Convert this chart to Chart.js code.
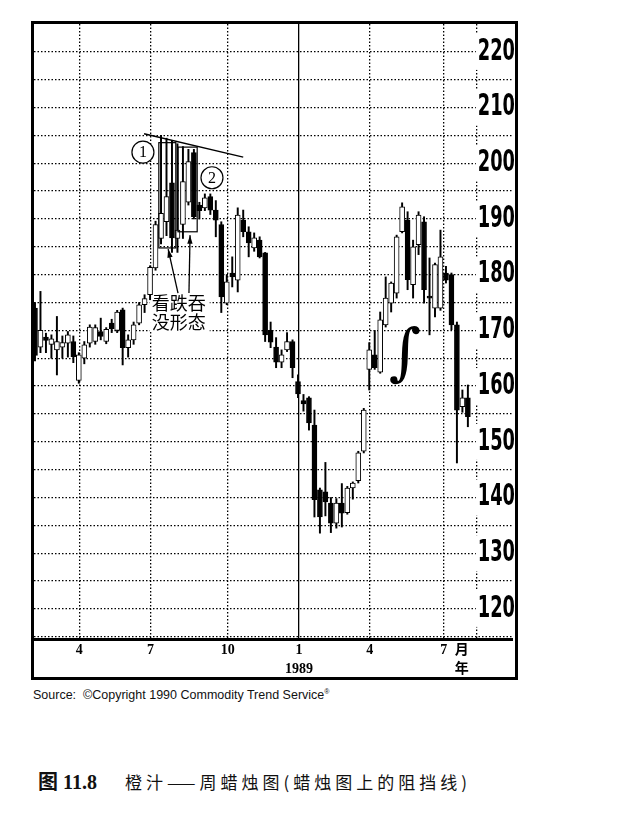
<!DOCTYPE html>
<html>
<head>
<meta charset="utf-8">
<script src="https://cdn.jsdelivr.net/npm/chart.js@4.4.0/dist/chart.umd.min.js"></script>
<style>
  body { margin: 0; background: #fff; width: 618px; height: 820px; position: relative; overflow: hidden; }
  #frame { position: absolute; left: 31px; top: 21px; width: 487px; height: 659px;
           border: 3px solid #000; box-sizing: border-box; }
  #frame canvas { display: block; }
  #source { position: absolute; left: 33px; top: 688px; font: 12.5px "Liberation Sans", Arial, sans-serif; color: #111; }
  #source sup { font-size: 7px; }
  #caption { position: absolute; left: 38px; top: 766px; font: 17px "Noto Sans CJK SC", sans-serif; color: #111; }
  #caption b { font: bold 20px "Liberation Serif", "Noto Sans CJK SC", serif; margin-right: 28px; }
  #caption span { letter-spacing: 4px; }
</style>
</head>
<body>
<div id="frame"><canvas id="weeklyChart" width="481" height="653"></canvas></div>
<div id="source">Source:&nbsp; ©Copyright 1990 Commodity Trend Service<sup>®</sup></div>
<div id="caption"><b>图 11.8</b><span>橙汁——周蜡烛图(蜡烛图上的阻挡线)</span></div>

<script>
// weekly orange juice candles, Feb 1988 - Aug 1989
const opens = [
    174, 167, 168.8, 167.5, 166.5, 167, 167.7, 168, 161, 165,
    167.7, 168, 169.8, 168, 171.3, 170, 173.7, 166.9, 168.3, 171.3,
    174.6, 176.4, 181.2, 186.5, 189.5, 196.5, 186.5, 189, 193, 201.9,
    192.5, 192, 194, 191.6, 189, 174.9, 180.3, 179, 189.8, 187.7,
    184.8, 186.2, 183.9, 170, 167, 164.3, 166.5, 168, 160.8, 157.4,
    157.9, 153, 141.4, 141, 139, 135.4, 139, 137.3, 141.7, 143,
    148.3, 163, 165.6, 162.5, 171, 174.9, 176.7, 187.7, 189.8, 178.2,
    185.4, 189.5, 176, 174, 174, 180.3, 180, 171, 156.3, 157.9
];
const highs = [
    175, 177, 169.5, 169.2, 172.5, 169, 169.8, 169, 166, 168,
    171, 171, 172.2, 170.5, 172, 173.6, 174, 169.2, 171.5, 175,
    176.4, 181.6, 189.6, 205, 204.5, 204, 203.5, 203, 202.5, 202.5,
    193, 194.5, 194.5, 193.3, 189.5, 180, 183.2, 192, 191.6, 188.6,
    187.5, 186.8, 184, 171.5, 168.7, 166.5, 169.6, 168.3, 162, 158.5,
    158.1, 155.7, 141.7, 146.3, 140, 139.8, 142.5, 142, 142.8, 148.3,
    156, 167.8, 170, 173.3, 179.6, 178.7, 187.1, 192.9, 191.3, 186.2,
    191.3, 190.4, 183, 182.1, 188, 181.5, 180.3, 171.5, 159.3, 160.2
];
const lows = [
    164.5, 166, 166, 165, 162, 165, 165.2, 164.2, 160.5, 164,
    167, 167.5, 168.3, 167.6, 169.6, 169.6, 163.8, 165.2, 167.5, 171,
    173.2, 175.5, 180.8, 185.5, 187, 184, 184, 186.5, 192.5, 190,
    190, 191.5, 190.8, 186.8, 173.2, 174.6, 177.8, 176.9, 186.8, 183.2,
    184.2, 183, 168, 166.9, 163.3, 163.3, 166.2, 161.5, 157.9, 155.5,
    152.1, 136.5, 133.6, 136.7, 133.7, 134.5, 134.7, 137, 139.7, 142.6,
    148, 159.3, 163, 162.3, 170.6, 173.3, 175.8, 187.5, 177.3, 175.8,
    183.6, 174.9, 169.2, 172.4, 173.6, 178.5, 170.1, 146.2, 155.3, 152.7
];
const closes = [
    165.5, 170, 168.2, 168.5, 168, 167.8, 169.2, 165.3, 165.6, 167.4,
    170.6, 170.5, 168.9, 170.2, 170.3, 173.3, 166.9, 168.3, 171, 174.6,
    175.7, 181.3, 189, 191, 194, 186.6, 188, 196.7, 200.3, 190.4,
    191.5, 193.8, 191.6, 189.8, 176, 178.7, 179.6, 190.7, 187.7, 185.7,
    186.6, 183.2, 169.2, 167.9, 164.3, 165.6, 168, 163.3, 158.6, 156.8,
    153.4, 139.6, 136.5, 139.2, 135.4, 139, 137.2, 141.7, 142.6, 148,
    155.7, 166.5, 163.3, 171.9, 175.8, 178.5, 186.8, 192.2, 179.1, 185,
    190.7, 177.3, 175.8, 181.8, 183.2, 179, 171, 155.7, 157.9, 154.5
];

// x axis: month marks (week position), labels
const monthTicks = [8.1, 21.1, 35.2, 48.2, 61.1, 74.6, 77.9, 80.6];
const monthLabels = ['4', '7', '10', ['1', '1989'], '4', '7', ['月', '年'], ''];
const yearTick = 48.2;
const unitTick = 77.9;

// y axis
const priceMin = 114.6;
const priceMax = 225;
const priceTicks = [115, 120, 125, 130, 135, 140, 145, 150, 155, 160, 165, 170,
                    175, 180, 185, 190, 195, 200, 205, 210, 215, 220];
const priceLabels = [120, 130, 140, 150, 160, 170, 180, 190, 200, 210, 220];

// notes drawn on the chart (week, price)
const resistLine = [[19.9, 205.3], [38.0, 201.1]];
const circleMarks = [[19.7, 202.0, '1'], [32.3, 197.4, '2']];
const engulfBoxes = [[22.6, 25.7, 184.8, 203.7], [26.1, 29.6, 187.7, 202.9]];
const noteArrows = [[26.1, 176.7, 24.3, 184.6], [28.1, 176.7, 28.3, 187.1]];
const noteLines = ['看跌吞', '没形态'];
const notePos = [21.3, 174.9, 171.5];
const curveMark = [67.5, 165.2];

const weekIdx = opens.map((_, i) => i);

const noteFont = '18px "Noto Sans CJK SC", sans-serif';

// price labels in the original are a tall condensed face: squeeze them
const narrowLabels = {
    id: 'narrowLabels',
    afterLayout(chart) {
        const s = chart.scales.y;
        if (s._narrow) return;
        const orig = s.drawLabels.bind(s);
        s.drawLabels = (area) => {
            const ctx = chart.ctx;
            const xr = chart.chartArea.right;
            ctx.save();
            ctx.translate(xr, 0);
            ctx.scale(0.66, 1);
            ctx.translate(-xr, 0);
            orig(area);
            ctx.restore();
        };
        s._narrow = true;
    }
};

const notesPlugin = {
    id: 'notes',
    beforeDatasetsDraw(chart) {
        const {ctx, scales: {x, y}} = chart;
        ctx.save();
        ctx.font = noteFont;
        ctx.fillStyle = '#fff';
        noteLines.forEach((t, k) => {
            const w = ctx.measureText(t).width;
            const px = x.getPixelForValue(notePos[0]);
            const py = y.getPixelForValue(notePos[k + 1]);
            ctx.fillRect(px - 2, py - 10, w + 6, 20);
        });
        ctx.restore();
    },
    afterDatasetsDraw(chart) {
        const {ctx, scales: {x, y}} = chart;
        ctx.save();
        ctx.strokeStyle = '#000';
        ctx.fillStyle = '#000';

        // resistance line
        ctx.lineWidth = 1.4;
        ctx.beginPath();
        ctx.moveTo(x.getPixelForValue(resistLine[0][0]), y.getPixelForValue(resistLine[0][1]));
        ctx.lineTo(x.getPixelForValue(resistLine[1][0]), y.getPixelForValue(resistLine[1][1]));
        ctx.stroke();

        // engulfing boxes
        ctx.lineWidth = 1.2;
        engulfBoxes.forEach(b => {
            const x0 = x.getPixelForValue(b[0]), x1 = x.getPixelForValue(b[1]);
            const y0 = y.getPixelForValue(b[3]), y1 = y.getPixelForValue(b[2]);
            ctx.strokeRect(x0, y0, x1 - x0, y1 - y0);
        });

        // arrows
        noteArrows.forEach(a => {
            const x0 = x.getPixelForValue(a[0]), y0 = y.getPixelForValue(a[1]);
            const x1 = x.getPixelForValue(a[2]), y1 = y.getPixelForValue(a[3]);
            const ang = Math.atan2(y1 - y0, x1 - x0);
            ctx.lineWidth = 1.3;
            ctx.beginPath();
            ctx.moveTo(x0, y0);
            ctx.lineTo(x1, y1);
            ctx.stroke();
            ctx.beginPath();
            ctx.moveTo(x1, y1);
            ctx.lineTo(x1 - 9 * Math.cos(ang - 0.3), y1 - 9 * Math.sin(ang - 0.3));
            ctx.lineTo(x1 - 9 * Math.cos(ang + 0.3), y1 - 9 * Math.sin(ang + 0.3));
            ctx.closePath();
            ctx.fill();
        });

        // numbered circles
        circleMarks.forEach(c => {
            const px = x.getPixelForValue(c[0]), py = y.getPixelForValue(c[1]);
            ctx.beginPath();
            ctx.arc(px, py, 11, 0, Math.PI * 2);
            ctx.fillStyle = '#fff';
            ctx.fill();
            ctx.lineWidth = 1.2;
            ctx.stroke();
            ctx.fillStyle = '#000';
            ctx.font = '16px "Liberation Serif", serif';
            ctx.textAlign = 'center';
            ctx.textBaseline = 'middle';
            ctx.fillText(c[2], px, py + 1);
        });

        // note text
        ctx.font = noteFont;
        ctx.textAlign = 'left';
        ctx.textBaseline = 'middle';
        noteLines.forEach((t, k) => {
            ctx.fillText(t, x.getPixelForValue(notePos[0]), y.getPixelForValue(notePos[k + 1]));
        });

        // curve mark
        ctx.font = 'italic 62px "DejaVu Serif", serif';
        ctx.textAlign = 'center';
        ctx.fillText('∫', x.getPixelForValue(curveMark[0]), y.getPixelForValue(curveMark[1]));
        ctx.restore();
    }
};

new Chart(document.getElementById('weeklyChart'), {
    type: 'bar',
    data: {
        datasets: [
            {
                label: 'wick',
                data: weekIdx.map(i => ({x: i, y: [lows[i], highs[i]]})),
                backgroundColor: '#000',
                borderWidth: 0,
                barThickness: 1.3,
                grouped: false,
                order: 2
            },
            {
                label: 'body',
                data: weekIdx.map(i => ({x: i, y: [opens[i], closes[i]]})),
                backgroundColor: (c) => closes[c.dataIndex] >= opens[c.dataIndex] ? '#fff' : '#000',
                borderColor: '#000',
                borderWidth: 1,
                borderSkipped: false,
                barThickness: 5,
                minBarLength: 2,
                grouped: false,
                order: 1
            }
        ]
    },
    options: {
        responsive: false,
        animation: false,
        layout: {padding: 0},
        plugins: {
            legend: {display: false},
            tooltip: {enabled: false}
        },
        scales: {
            x: {
                type: 'linear',
                min: -0.18,
                max: 87.6,
                offset: false,
                afterBuildTicks: (s) => { s.ticks = monthTicks.map(v => ({value: v})); },
                afterFit: (s) => { s.height = 38; s.paddingLeft = 0; s.paddingRight = 0; },
                ticks: {
                    autoSkip: false,
                    maxRotation: 0,
                    padding: 2,
                    color: '#000',
                    font: {family: '"Liberation Serif", "Noto Sans CJK SC", serif', size: 14, weight: 'bold', lineHeight: 1.35},
                    callback: (v, i) => monthLabels[i]
                },
                grid: {
                    offset: false,
                    drawTicks: false,
                    lineWidth: 1.3,
                    color: (c) => (c.tick && c.tick.value === unitTick) ? 'rgba(0,0,0,0)' : '#000'
                },
                border: {
                    display: true,
                    width: 3,
                    color: '#000',
                    dash: (c) => (c.tick && c.tick.value === yearTick) ? [] : [1.5, 2]
                }
            },
            y: {
                position: 'right',
                min: priceMin,
                max: priceMax,
                beginAtZero: false,
                afterBuildTicks: (s) => { s.ticks = priceTicks.map(v => ({value: v})); },
                afterFit: (s) => { s.width = 0; s.paddingTop = 0; s.paddingBottom = 0; },
                ticks: {
                    autoSkip: false,
                    mirror: true,
                    padding: 0,
                    color: '#000',
                    showLabelBackdrop: true,
                    backdropColor: '#fff',
                    backdropPadding: {left: 3, right: 0, top: 0, bottom: 0},
                    font: {family: '"DejaVu Sans Condensed", sans-serif', size: 30, weight: 'bold'},
                    callback: (v) => priceLabels.includes(v) ? String(v) : ''
                },
                grid: {
                    drawTicks: false,
                    lineWidth: 1.3,
                    color: '#000'
                },
                border: {
                    display: false,
                    dash: [1.5, 2]
                }
            }
        }
    },
    plugins: [narrowLabels, notesPlugin]
});
</script>
</body>
</html>
